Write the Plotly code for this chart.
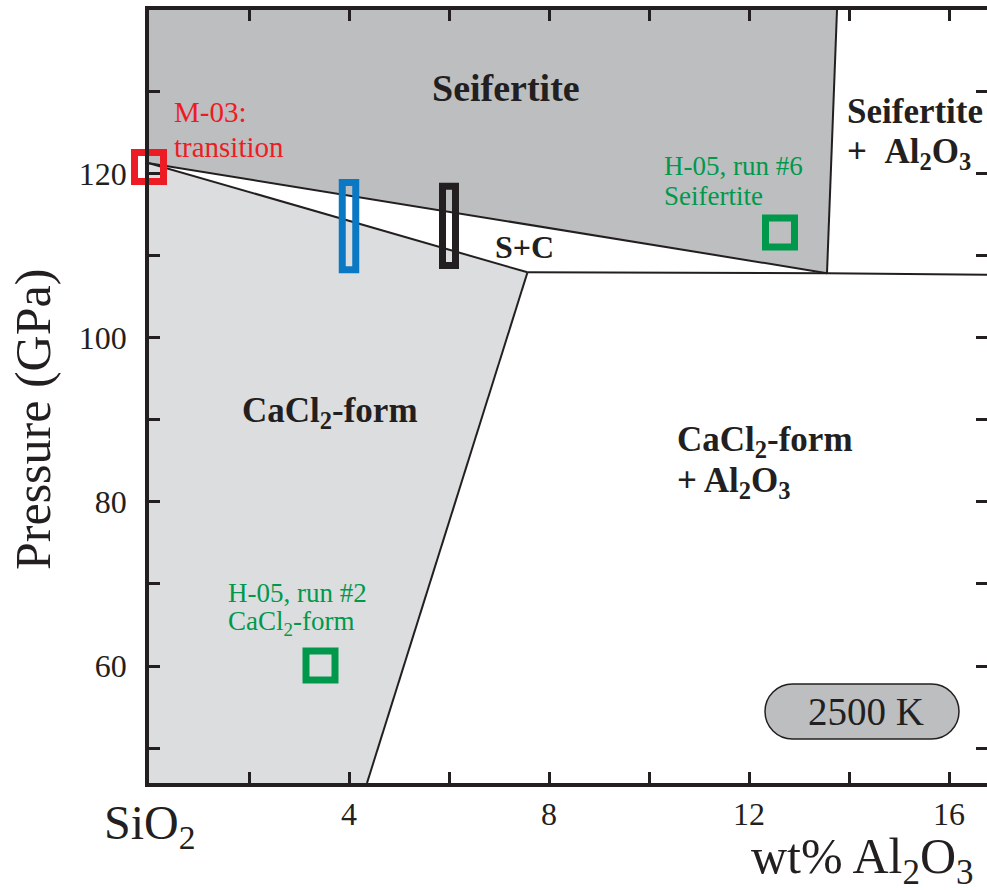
import plotly.graph_objects as go

# ---- phase diagram data: wt% Al2O3 vs pressure (GPa) at 2500 K ----
P_TOP = 139.9
P_BOTTOM = 45.75
X_MAX = 16.76

# stability fields (polygons)
seifertite_x = [0.0, 13.56, 13.76, 0.0]
seifertite_p = [121.25, 107.85, P_TOP, P_TOP]
cacl2_x = [0.0, 7.57, 4.36, 0.0]
cacl2_p = [121.25, 107.95, P_BOTTOM, P_BOTTOM]

# phase boundaries
upper_x, upper_p = [0.0, 13.56], [121.25, 107.85]
lower_x, lower_p = [0.0, 7.57], [121.25, 107.95]
flat_x, flat_p = [7.57, 13.56, X_MAX], [107.95, 107.85, 107.65]
seif_al_x, seif_al_p = [13.56, 13.76], [107.85, P_TOP]
cacl_al_x, cacl_al_p = [7.57, 4.36], [107.95, P_BOTTOM]

# previous studies (single points)
runs_x = [0.0, 12.62, 3.43]
runs_p = [120.77, 112.79, 60.05]
runs_color = ["#ED1C24", "#00994C", "#00994C"]

# this study: pressure ranges of the transition at fixed composition
range_x = [4.0, 6.0]
range_halfwidth = [0.135, 0.13]
range_pmin = [108.25, 108.77]
range_pmax = [118.88, 118.43]
range_color = ["#0A78C2", "#231F20"]

# labelled ticks and unlabelled (minor) ticks
x_label_ticks = [4, 8, 12, 16]
x_all_ticks = [0, 2, 4, 6, 8, 10, 12, 14, 16]
y_label_ticks = [60, 80, 100, 120]
y_all_ticks = [50, 60, 70, 80, 90, 100, 110, 120, 130]

# ---- page geometry ----
W, H = 987, 890
PL, PR, PT, PB = 149, 987, 10, 783
FONT = "Liberation Serif, Times New Roman, serif"
INK = "#231F20"
DARK_FILL = "#BDBEC0"
LIGHT_FILL = "#DCDDDF"


def px(xp):
    return (xp - PL) / (PR - PL)


def py(yp):
    return (PB - yp) / (PB - PT)


fig = go.Figure()

fig.add_trace(go.Scatter(x=seifertite_x, y=seifertite_p, mode="lines", fill="toself",
                         fillcolor=DARK_FILL, line=dict(width=0), hoverinfo="skip"))
fig.add_trace(go.Scatter(x=cacl2_x, y=cacl2_p, mode="lines", fill="toself",
                         fillcolor=LIGHT_FILL, line=dict(width=0), hoverinfo="skip"))

for bx, bp in [(upper_x, upper_p), (lower_x, lower_p), (seif_al_x, seif_al_p),
               (cacl_al_x, cacl_al_p)]:
    fig.add_trace(go.Scatter(x=bx, y=bp, mode="lines", line=dict(color=INK, width=2),
                             hoverinfo="skip"))
# this one sits on the mirrored right-hand axis so that axis gets drawn
fig.add_trace(go.Scatter(x=flat_x, y=flat_p, mode="lines", line=dict(color=INK, width=2),
                         yaxis="y2", hoverinfo="skip"))

fig.add_trace(go.Scatter(x=runs_x, y=runs_p, mode="markers", cliponaxis=False,
                         marker=dict(symbol="square", size=29, color="rgba(0,0,0,0)",
                                     line=dict(color=runs_color, width=7)),
                         hoverinfo="skip"))

shapes = []
for cx, hw, p0, p1, col in zip(range_x, range_halfwidth, range_pmin, range_pmax, range_color):
    shapes.append(dict(type="rect", xref="x", yref="y", x0=cx - hw, x1=cx + hw,
                       y0=p0, y1=p1, line=dict(color=col, width=7),
                       fillcolor="rgba(0,0,0,0)"))


def stadium(x0, x1, y0, y1):
    r = (y1 - y0) / 2
    ym = (y0 + y1) / 2
    k = 0.5523 * r
    pts = [
        ("M", [(x0 + r, y0)]),
        ("L", [(x1 - r, y0)]),
        ("C", [(x1 - r + k, y0), (x1, ym - k), (x1, ym)]),
        ("C", [(x1, ym + k), (x1 - r + k, y1), (x1 - r, y1)]),
        ("L", [(x0 + r, y1)]),
        ("C", [(x0 + r - k, y1), (x0, ym + k), (x0, ym)]),
        ("C", [(x0, ym - k), (x0 + r - k, y0), (x0 + r, y0)]),
    ]
    s = ""
    for cmd, ps in pts:
        s += cmd + " " + " ".join(f"{px(a):.5f},{py(b):.5f}" for a, b in ps) + " "
    return s + "Z"


shapes.append(dict(type="path", xref="paper", yref="paper", path=stadium(765, 959, 684, 739),
                   fillcolor=DARK_FILL, line=dict(color=INK, width=1.5)))


def ann(text, x, y, size, color=INK, xanchor="center", angle=0):
    return dict(text=text, x=px(x), y=py(y), xref="paper", yref="paper",
                xanchor=xanchor, yanchor="middle", showarrow=False, textangle=angle,
                font=dict(family=FONT, size=size, color=color))


GREEN = "#00994C"
annotations = [
    ann("<b>Seifertite</b>", 506, 88, 38),
    ann("<b>S+C</b>", 524, 247, 32),
    ann("<b>CaCl<sub>2</sub>-form</b>", 330, 412, 35),
    ann("<b>CaCl<sub>2</sub>-form</b>", 675, 441, 35, xanchor="left"),
    ann("<b>+ Al<sub>2</sub>O<sub>3</sub></b>", 675, 483, 35, xanchor="left"),
    ann("<b>Seifertite</b>", 845, 112, 35, xanchor="left"),
    ann("<b>+ \u00a0Al<sub>2</sub>O<sub>3</sub></b>", 845, 153, 35, xanchor="left"),
    ann("M-03:", 172, 112, 29, "#ED1C24", xanchor="left"),
    ann("transition", 172, 147, 29, "#ED1C24", xanchor="left"),
    ann("H-05, run #6", 662, 166, 27, GREEN, xanchor="left"),
    ann("Seifertite", 662, 196, 27, GREEN, xanchor="left"),
    ann("H-05, run #2", 226, 593, 27, GREEN, xanchor="left"),
    ann("CaCl<sub>2</sub>-form", 226, 623, 27, GREEN, xanchor="left"),
    ann("2500 K", 866, 711, 39),
    ann("Pressure (GPa)", 33, 420, 50, angle=-90),
    ann("SiO<sub>2</sub>", 150, 826, 48),
    ann("wt% Al<sub>2</sub>O<sub>3</sub>", 862, 860, 50),
]

axis_common = dict(ticks="inside", ticklen=11, tickwidth=2.5, tickcolor=INK,
                   showgrid=False, zeroline=False,
                   tickfont=dict(family=FONT, size=32, color=INK))

fig.update_layout(
    width=W, height=H,
    margin=dict(l=PL, r=W - PR, t=PT, b=H - PB, pad=0),
    paper_bgcolor="white", plot_bgcolor="white",
    showlegend=False,
    shapes=shapes,
    annotations=annotations,
    xaxis=dict(range=[0, X_MAX], tickmode="array", tickvals=x_label_ticks,
               minor=dict(tickmode="array", tickvals=x_all_ticks, ticks="inside",
                          ticklen=11, tickwidth=2.5, tickcolor=INK, showgrid=False),
               showline=True, linewidth=3.5, linecolor=INK, mirror="ticks",
               **axis_common),
    yaxis=dict(range=[P_BOTTOM, P_TOP], tickmode="array", tickvals=y_label_ticks,
               minor=dict(tickmode="array", tickvals=y_all_ticks, ticks="inside",
                          ticklen=11, tickwidth=2.5, tickcolor=INK, showgrid=False),
               ticklabelstandoff=12,
               showline=True, linewidth=3.5, linecolor=INK, **axis_common),
    yaxis2=dict(range=[P_BOTTOM, P_TOP], tickmode="array", tickvals=y_label_ticks,
                minor=dict(tickmode="array", tickvals=y_all_ticks, ticks="inside",
                           ticklen=11, tickwidth=2.5, tickcolor=INK, showgrid=False),
                overlaying="y", side="right", anchor="x",
                showline=False, showticklabels=False, **axis_common),
)

fig.write_html("out.html")
